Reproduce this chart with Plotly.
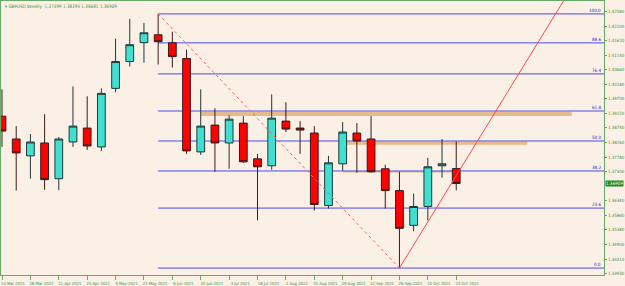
import plotly.graph_objects as go
import pandas as pd

# ---- data ----
week_start = "2021-03-14"
opens = [1.39128, 1.38376, 1.37819, 1.38245, 1.37066, 1.38277, 1.38736, 1.38114, 1.40045, 1.40929,
         1.41551, 1.41813, 1.41551, 1.41027, 1.37950, 1.38834, 1.38245, 1.38899, 1.37721, 1.37492,
         1.38965, 1.38736, 1.38572, 1.36182, 1.37557, 1.38572, 1.38376, 1.37394, 1.36674, 1.35528,
         1.36150, 1.37492, 1.37399]
highs = [1.40012, 1.38801, 1.38539, 1.39194, 1.38441, 1.40111, 1.39783, 1.40045, 1.41682, 1.42336,
         1.42205, 1.42500, 1.41911, 1.41322, 1.40012, 1.39390, 1.39160, 1.39128, 1.37885, 1.39849,
         1.39587, 1.38965, 1.38801, 1.37819, 1.38932, 1.38899, 1.39128, 1.37525, 1.37295, 1.36575,
         1.37754, 1.38376, 1.38295]
lows = [1.38114, 1.36674, 1.37066, 1.36700, 1.36690, 1.38114, 1.38016, 1.37983, 1.39914, 1.40765,
        1.40896, 1.40831, 1.40732, 1.37885, 1.37852, 1.37295, 1.37394, 1.37590, 1.35691, 1.37361,
        1.38605, 1.37885, 1.36019, 1.36084, 1.37328, 1.37263, 1.37263, 1.36084, 1.34120, 1.35331,
        1.35691, 1.37099, 1.36681]
closes = [1.38637, 1.37917, 1.38277, 1.37034, 1.38376, 1.38801, 1.38146, 1.39881, 1.40929, 1.41485,
          1.41878, 1.41583, 1.41092, 1.37983, 1.38801, 1.38245, 1.39030, 1.37623, 1.37459, 1.39063,
          1.38703, 1.38670, 1.36215, 1.37590, 1.38605, 1.38310, 1.37295, 1.36674, 1.35430, 1.36150,
          1.37459, 1.37557, 1.36909]
dates = pd.date_range(week_start, periods=len(opens), freq="7D")
x_tick_dates = list(dates[::2])

y_tick_vals = [1.42580, 1.42100, 1.41620, 1.41140, 1.40660, 1.40180, 1.39700, 1.39220, 1.38740,
               1.38260, 1.37780, 1.37300, 1.36340, 1.35860, 1.35380, 1.34900, 1.34410, 1.33930]
current_price = 1.36909
title_text = "▾ GBPUSD,Weekly  1.37399 1.38295 1.36681 1.36909"

fib_anchor_dates = ["2021-05-30", "2021-09-26"]
fib_anchor_prices = [1.42500, 1.34120]
fib_pcts = [100.0, 88.6, 76.4, 61.8, 50.0, 38.2, 23.6, 0.0]

trend_dates = ["2021-09-26", "2021-12-23"]
trend_prices = [1.34120, 1.43700]

zone_x0 = ["2021-06-20", "2021-08-31", "2021-08-29"]
zone_x1 = ["2021-12-20", "2021-11-28", "2021-10-24"]
zone_y0 = [1.39130, 1.38190, 1.37270]
zone_y1 = [1.39275, 1.38295, 1.37320]

x_range = ["2021-03-13 12:00", "2022-01-04 21:00"]
y_range = [1.33891, 1.42926]

# ---- styles ----
BG = "#FAF0E6"
GREEN = "#3a913a"
AXIS = "#6aa86a"
FIB = "#4a4af0"
FONT = "Liberation Sans Narrow, DejaVu Sans Condensed, Liberation Sans, sans-serif"

fig = go.Figure()

fig.add_trace(go.Candlestick(
    x=dates, open=opens, high=highs, low=lows, close=closes,
    increasing=dict(fillcolor="#40E0D0", line=dict(color="#203838", width=1)),
    decreasing=dict(fillcolor="#FF0000", line=dict(color="#3a1a1a", width=1)),
    whiskerwidth=0, showlegend=False, hoverinfo="skip",
))

# fib anchor dotted line
fig.add_trace(go.Scatter(x=fib_anchor_dates, y=fib_anchor_prices, mode="lines",
                         line=dict(color="#FF6060", width=1, dash="dot"),
                         showlegend=False, hoverinfo="skip"))
# trendline
fig.add_trace(go.Scatter(x=trend_dates, y=trend_prices, mode="lines",
                         line=dict(color="#FF4a4a", width=1),
                         showlegend=False, hoverinfo="skip"))

shapes = []
for a, b, c, d in zip(zone_x0, zone_x1, zone_y0, zone_y1):
    shapes.append(dict(type="rect", xref="x", yref="y", x0=a, x1=b, y0=c, y1=d,
                       fillcolor="rgba(222,168,110,0.75)", line=dict(width=0), layer="below"))

annotations = []
hi, lo = fib_anchor_prices
for p in fib_pcts:
    lvl = lo + (hi - lo) * p / 100.0
    shapes.append(dict(type="line", xref="x", yref="y", x0=fib_anchor_dates[0], x1=x_range[1],
                       y0=lvl, y1=lvl, line=dict(color=FIB, width=1), layer="below"))
    annotations.append(dict(xref="paper", yref="y", x=1, y=lvl, text=f"{p:.1f}",
                            xanchor="right", yanchor="bottom", showarrow=False, xshift=-1, yshift=-1,
                            font=dict(size=4.5, color="#2020d0", family=FONT)))

annotations.append(dict(xref="paper", yref="y", x=1, y=current_price, text=f"{current_price:.5f}",
                        xanchor="left", yanchor="middle", showarrow=False, xshift=1,
                        bgcolor="#1d8a1d", borderpad=0,
                        font=dict(size=4.5, color="#ffffff", family=FONT)))
annotations.append(dict(xref="paper", yref="paper", x=0, y=1, text=title_text,
                        xanchor="left", yanchor="top", showarrow=False, xshift=2, yshift=-1,
                        font=dict(size=4.6, color=GREEN, family=FONT)))

fig.update_layout(
    width=625, height=286,
    margin=dict(l=0, r=21, t=1, b=9),
    paper_bgcolor=BG, plot_bgcolor=BG,
    boxgap=0.22,
    shapes=shapes, annotations=annotations,
    xaxis=dict(type="date", range=x_range, tickvals=x_tick_dates,
               ticktext=[d.strftime("%-d %b %Y") for d in x_tick_dates],
               ticks="outside", ticklen=4, tickcolor=AXIS,
               showline=True, linecolor=AXIS, linewidth=1, mirror=True,
               showgrid=False, zeroline=False, rangeslider=dict(visible=False),
               tickfont=dict(size=4.2, color=GREEN, family=FONT), ticklabelshift=11,
               ticklabelstandoff=0),
    yaxis=dict(side="right", range=y_range, tickvals=y_tick_vals,
               ticktext=[f"{v:.5f}" for v in y_tick_vals],
               ticks="outside", ticklen=2, tickcolor=AXIS,
               showline=True, linecolor=AXIS, linewidth=1, mirror=True,
               showgrid=False, zeroline=False,
               tickfont=dict(size=4.4, color=GREEN, family=FONT)),
)

fig.write_html("out.html")
